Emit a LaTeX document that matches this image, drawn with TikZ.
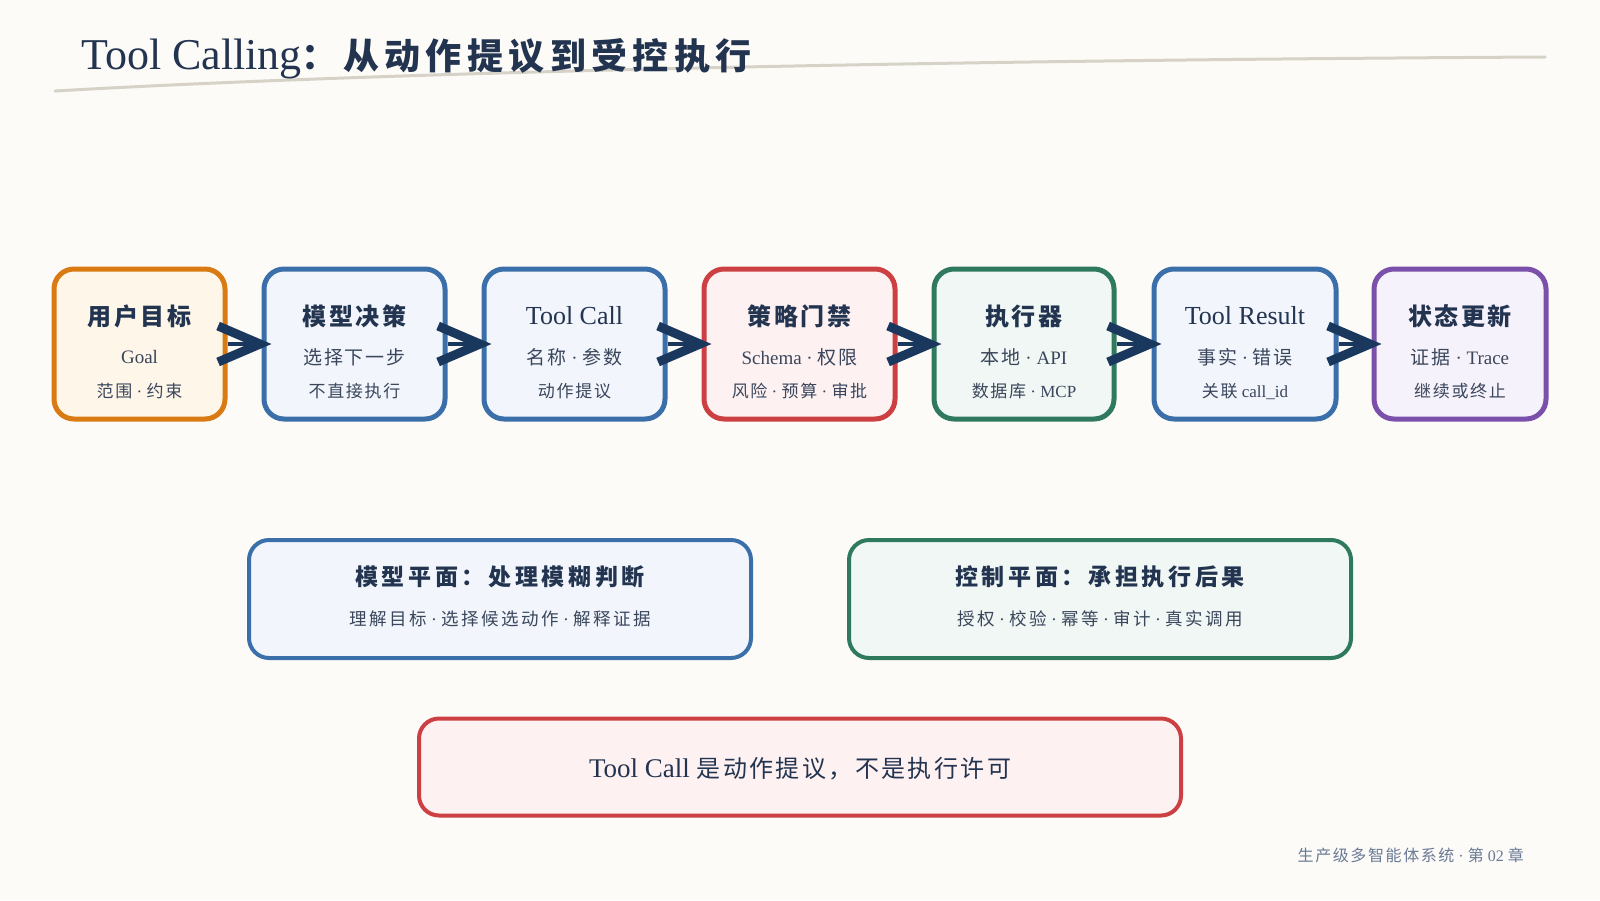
\documentclass[tikz,border=0pt]{standalone}
\usepackage{fontspec}
\setmainfont{Liberation Serif}
\newfontfamily\cjk[LetterSpace=10]{Noto Sans CJK SC}
\usetikzlibrary{arrows.meta}
\definecolor{TcPaper}{RGB}{252,251,247}
\definecolor{TcInk}{RGB}{35,52,80}
\definecolor{TcInkSoft}{RGB}{58,70,92}
\definecolor{TcNavy}{RGB}{26,56,94}
\definecolor{TcRule}{RGB}{214,210,199}
\definecolor{TcMuted}{RGB}{106,122,150}
\definecolor{TcOrange}{RGB}{217,123,18}
\definecolor{TcOrangeFill}{RGB}{254,246,232}
\definecolor{TcBlue}{RGB}{58,111,170}
\definecolor{TcBlueFill}{RGB}{242,246,252}
\definecolor{TcRed}{RGB}{204,64,68}
\definecolor{TcRedFill}{RGB}{253,241,241}
\definecolor{TcGreen}{RGB}{47,122,94}
\definecolor{TcGreenFill}{RGB}{240,247,244}
\definecolor{TcPurple}{RGB}{122,80,170}
\definecolor{TcPurpleFill}{RGB}{246,242,251}
\newcommand\zh[1]{{\cjk #1}}
\newcommand\zhb[1]{{\cjk\bfseries #1}}
\tikzset{
  tc/stage/.style={
    draw,
    line width=5pt,
    rounded corners=20pt,
    minimum height=150pt,
    inner sep=0pt
  },
  tc/plane/.style={
    draw,
    line width=4pt,
    rounded corners=20pt,
    minimum width=502pt,
    minimum height=118pt,
    inner sep=0pt
  },
  tc/orange/.style={draw=TcOrange, fill=TcOrangeFill},
  tc/blue/.style={draw=TcBlue, fill=TcBlueFill},
  tc/red/.style={draw=TcRed, fill=TcRedFill},
  tc/green/.style={draw=TcGreen, fill=TcGreenFill},
  tc/purple/.style={draw=TcPurple, fill=TcPurpleFill},
  tc/head/.style={font=\fontsize{26}{26}\selectfont, text=TcInk, inner sep=0pt},
  tc/sub/.style={font=\fontsize{19}{20}\selectfont, text=TcInkSoft, inner sep=0pt},
  tc/small/.style={font=\fontsize{17}{18}\selectfont, text=TcInkSoft, inner sep=0pt},
  tc/arrow/.style={
    line width=4pt,
    draw=TcNavy,
    -{Straight Barb[length=42pt,width=36pt,line width=9pt,sharp]},
    shorten >=-10pt
  }
}

\begin{document}
\begin{tikzpicture}[x=1pt,y=-1pt]
  \fill[TcPaper] (0,0) rectangle (1600,900);

  % title
  \draw[TcRule, line width=3pt, line cap=round] (55,91) .. controls (420,70) and (1000,60) .. (1545,57);
  \node[anchor=base west, text=TcInk, inner sep=0pt] (title) at (81,69)
    {\fontsize{44}{44}\selectfont Tool Calling{\cjk\bfseries\addfontfeature{LetterSpace=15}\fontsize{36}{36}\selectfont ：从动作提议到受控执行}};

  % pipeline
  \node[tc/stage, tc/orange, minimum width=171pt] (b1) at (139.5,344) {};
  \node[tc/stage, tc/blue, minimum width=181pt] (b2) at (354.5,344) {};
  \node[tc/stage, tc/blue, minimum width=181pt] (b3) at (574.5,344) {};
  \node[tc/stage, tc/red, minimum width=191pt] (b4) at (799.5,344) {};
  \node[tc/stage, tc/green, minimum width=180pt] (b5) at (1024,344) {};
  \node[tc/stage, tc/blue, minimum width=182pt] (b6) at (1245,344) {};
  \node[tc/stage, tc/purple, minimum width=172pt] (b7) at (1460,344) {};

  \node[tc/head] (b1h) at (139.5,316) {\zhb{\fontsize{24}{24}\selectfont 用户目标}};
  \node[tc/sub] (b1s) at (139.5,357) {Goal};
  \node[tc/small] (b1n) at (139.5,391) {\zh{范围} · \zh{约束}};

  \node[tc/head] (b2h) at (354.5,316) {\zhb{\fontsize{24}{24}\selectfont 模型决策}};
  \node[tc/sub] (b2s) at (354.5,357) {\zh{选择下一步}};
  \node[tc/small] (b2n) at (354.5,391) {\zh{不直接执行}};

  \node[tc/head] (b3h) at (574.5,316) {Tool Call};
  \node[tc/sub] (b3s) at (574.5,357) {\zh{名称} · \zh{参数}};
  \node[tc/small] (b3n) at (574.5,391) {\zh{动作提议}};

  \node[tc/head] (b4h) at (799.5,316) {\zhb{\fontsize{24}{24}\selectfont 策略门禁}};
  \node[tc/sub] (b4s) at (799.5,357) {Schema · \zh{权限}};
  \node[tc/small] (b4n) at (799.5,391) {\zh{风险} · \zh{预算} · \zh{审批}};

  \node[tc/head] (b5h) at (1024,316) {\zhb{\fontsize{24}{24}\selectfont 执行器}};
  \node[tc/sub] (b5s) at (1024,357) {\zh{本地} · API};
  \node[tc/small] (b5n) at (1024,391) {\zh{数据库} · MCP};

  \node[tc/head] (b6h) at (1245,316) {Tool Result};
  \node[tc/sub] (b6s) at (1245,357) {\zh{事实} · \zh{错误}};
  \node[tc/small] (b6n) at (1245,391) {\zh{关联} call\_id};

  \node[tc/head] (b7h) at (1460,316) {\zhb{\fontsize{24}{24}\selectfont 状态更新}};
  \node[tc/sub] (b7s) at (1460,357) {\zh{证据} · Trace};
  \node[tc/small] (b7n) at (1460,391) {\zh{继续或终止}};

  \foreach \a/\b in {b1/b2,b2/b3,b3/b4,b4/b5,b5/b6,b6/b7}{
    \draw[tc/arrow] (\a.east) -- (\b.west);
  }

  % two planes
  \node[tc/plane, tc/blue] (pm) at (500,599) {};
  \node[tc/head, font=\fontsize{23}{23}\selectfont] (pmh) at (500,577) {\zhb{\addfontfeature{LetterSpace=16}模型平面：处理模糊判断}};
  \node[tc/sub, font=\fontsize{17.5}{18}\selectfont] (pms) at (500,619) {\zh{\addfontfeature{LetterSpace=14}理解目标} · \zh{\addfontfeature{LetterSpace=14}选择候选动作} · \zh{\addfontfeature{LetterSpace=14}解释证据}};

  \node[tc/plane, tc/green] (pc) at (1100,599) {};
  \node[tc/head, font=\fontsize{23}{23}\selectfont] (pch) at (1100,577) {\zhb{\addfontfeature{LetterSpace=16}控制平面：承担执行后果}};
  \node[tc/sub, font=\fontsize{17.5}{18}\selectfont] (pcs) at (1100,619) {\zh{\addfontfeature{LetterSpace=14}授权} · \zh{\addfontfeature{LetterSpace=14}校验} · \zh{\addfontfeature{LetterSpace=14}幂等} · \zh{\addfontfeature{LetterSpace=14}审计} · \zh{\addfontfeature{LetterSpace=14}真实调用}};

  % note
  \node[tc/plane, tc/red, minimum width=762pt, minimum height=97pt] (nt) at (800,767) {};
  \node[tc/head, font=\fontsize{27}{27}\selectfont] (ntt) at (800,769) {Tool Call \zh{\fontsize{24}{24}\selectfont 是动作提议，不是执行许可}};

  \node[anchor=east, text=TcMuted, inner sep=0pt, font=\fontsize{16}{16}\selectfont] (foot) at (1524,855)
    {\zh{生产级多智能体系统} · \zh{第} 02 \zh{章}};
\end{tikzpicture}
\end{document}
